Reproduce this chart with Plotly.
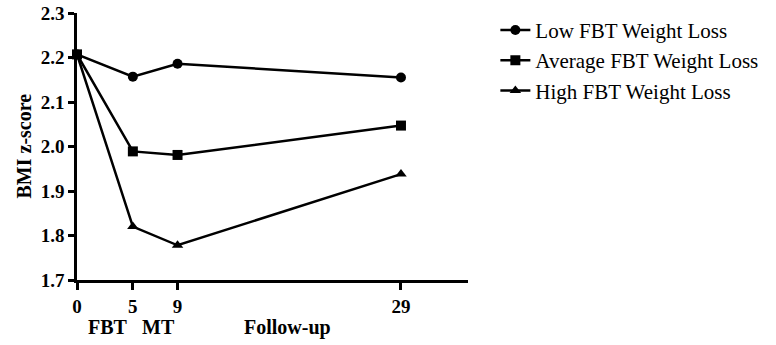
import plotly.graph_objects as go

months = [0, 5, 9, 29]
low = [2.207, 2.157, 2.186, 2.155]
average = [2.207, 1.989, 1.981, 2.047]
high = [2.207, 1.820, 1.778, 1.938]
series_names = ["Low FBT Weight Loss", "Average FBT Weight Loss", "High FBT Weight Loss"]
phase_labels = ["FBT", "MT", "Follow-up"]
phase_pos = [2.8, 7.3, 18.8]
y_ticks = [1.7, 1.8, 1.9, 2.0, 2.1, 2.2, 2.3]

font_family = "Liberation Serif"
fig = go.Figure()
for name, vals, sym in zip(series_names, [low, average, high], ["circle", "square", "triangle-up"]):
    fig.add_trace(go.Scatter(
        x=months, y=vals, name=name, mode="lines+markers",
        line=dict(color="black", width=2.5),
        marker=dict(symbol=sym, size=10, color="black"),
        cliponaxis=False,
    ))

for lab, pos in zip(phase_labels, phase_pos):
    fig.add_annotation(x=pos, y=0, xref="x", yref="paper", yshift=-47,
                       xanchor="center", yanchor="middle",
                       text="<b>" + lab + "</b>", showarrow=False,
                       font=dict(family=font_family, size=20, color="black"))

fig.add_annotation(x=0, y=0.5, xref="paper", yref="paper", xshift=-54,
                   xanchor="center", yanchor="middle",
                   text="<b>BMI z-score</b>", textangle=-90, showarrow=False,
                   font=dict(family=font_family, size=20, color="black"))

fig.update_layout(
    width=776, height=345,
    margin=dict(l=77, r=308, t=13, b=65, autoexpand=False),
    paper_bgcolor="white", plot_bgcolor="white",
    font=dict(family=font_family, color="black"),
    showlegend=True,
    legend=dict(x=1.07, y=1.012, xanchor="left", yanchor="top",
                font=dict(family=font_family, size=21, color="black"),
                bgcolor="rgba(0,0,0,0)", itemwidth=30),
    xaxis=dict(range=[0, 35], tickvals=months, ticktext=["<b>%d</b>" % m for m in months],
               showgrid=False, zeroline=False, showline=True, linecolor="black", linewidth=2.5,
               ticks="outside", ticklen=7, tickwidth=2.5, tickcolor="black", automargin=False,
               tickfont=dict(family=font_family, size=19, color="black")),
    yaxis=dict(range=[1.7, 2.3], tickvals=y_ticks, ticktext=["<b>%.1f</b>" % v for v in y_ticks],
               showgrid=False, zeroline=False, showline=True, linecolor="black", linewidth=2.5,
               ticks="outside", ticklen=6, tickwidth=2.5, tickcolor="black", automargin=False,
               tickfont=dict(family=font_family, size=19, color="black")),
)

# remove the browser's default 8px body margin so the figure fills the window exactly
fig.write_html("out.html", config={"displayModeBar": False},
               post_script="document.body.style.margin='0';")
